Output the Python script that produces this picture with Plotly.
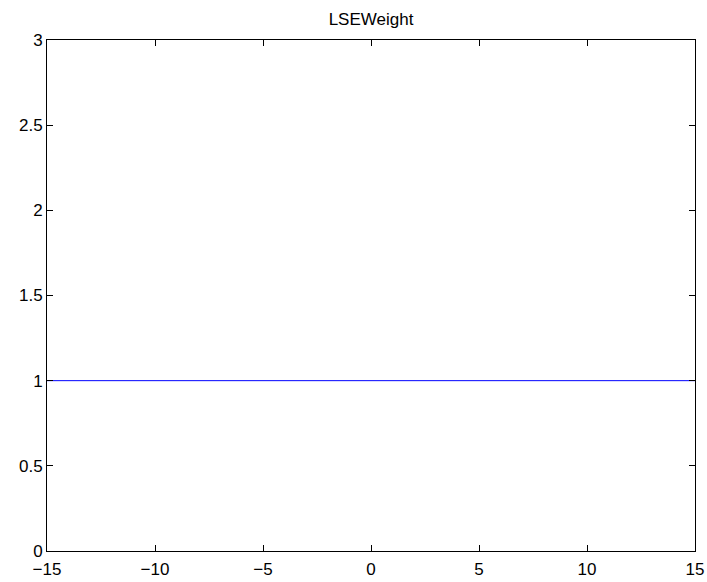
import plotly.graph_objects as go

x_vals = [-15, -10, -5, 0, 5, 10, 15]
y_vals = [1, 1, 1, 1, 1, 1, 1]
x_ticks = [-15, -10, -5, 0, 5, 10, 15]
x_tick_text = ["\u221215", "\u221210", "\u22125", "0", "5", "10", "15"]
y_ticks = [0, 0.5, 1, 1.5, 2, 2.5, 3]
y_tick_text = ["0", "0.5", "1", "1.5", "2", "2.5", "3"]

FONT = "Liberation Sans, Arial, Helvetica"

fig = go.Figure()
fig.add_trace(go.Scatter(x=x_vals, y=y_vals, mode="lines",
                         line=dict(color="#0000ff", width=1), showlegend=False))

axis_common = dict(showgrid=False, zeroline=False, showline=True, linecolor="black",
                   linewidth=1, mirror="ticks", ticks="inside", ticklen=6,
                   tickcolor="black", automargin=False,
                   tickfont=dict(family=FONT, size=17, color="black"))
fig.update_layout(
    width=707, height=582,
    margin=dict(l=47, r=12, t=40, b=31, pad=0),
    paper_bgcolor="white", plot_bgcolor="white",
    title=dict(text="LSEWeight", x=0.5, xanchor="center", xref="paper",
               y=1 - 19/582, yanchor="middle",
               font=dict(family=FONT, size=17, color="black")),
    xaxis=dict(range=[-15, 15], tickvals=x_ticks, ticktext=x_tick_text,
               ticklabelstandoff=3, **axis_common),
    yaxis=dict(range=[0, 3], tickvals=y_ticks, ticktext=y_tick_text, **axis_common),
)
fig.write_html("out.html", config={"displayModeBar": False},
               post_script="document.body.style.margin='0';document.body.style.overflow='hidden';")
